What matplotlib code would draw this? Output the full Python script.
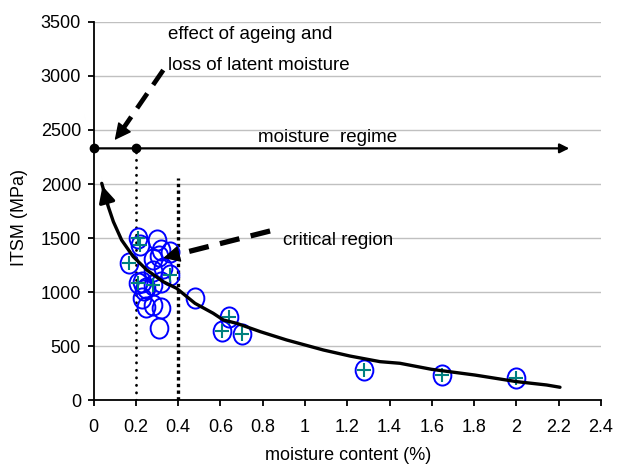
import matplotlib
matplotlib.use('Agg')
import matplotlib.pyplot as plt
from matplotlib.path import Path

plt.rcParams['font.family'] = ['Liberation Sans', 'DejaVu Sans']
plt.rcParams['font.size'] = 13

# measured ITSM, plain circles
circle_x = [0.30, 0.32, 0.36, 0.28, 0.31, 0.33, 0.28, 0.23, 0.32, 0.25,
            0.24, 0.23, 0.25, 0.28, 0.32, 0.31, 0.48]
circle_y = [1480, 1390, 1370, 1310, 1330, 1220, 1190, 1095, 1095, 1035,
            1020, 940, 865, 880, 850, 670, 940]

# measured ITSM, circles with cross
cross_x = [0.21, 0.22, 0.17, 0.36, 0.21, 0.28, 0.64, 0.61, 0.70, 1.28, 1.65, 2.00]
cross_y = [1500, 1435, 1265, 1160, 1080, 1065, 770, 635, 615, 280, 230, 200]

# hand-drawn trend curve (starts at the arrow tip)
curve_x = [0.039, 0.070, 0.094, 0.133, 0.188, 0.252, 0.330, 0.393, 0.480, 0.566,
           0.614, 0.677, 0.790, 0.913, 1.087, 1.213, 1.355, 1.449, 1.599, 1.804,
           2.001, 2.143, 2.206]
curve_y = [2006, 1790, 1651, 1481, 1327, 1204, 1095, 1034, 895, 803,
           741, 710, 632, 556, 463, 407, 355, 340, 284, 231,
           170, 139, 118]

regime_y = 2330
regime_end = 2.25
xticks = [0, 0.2, 0.4, 0.6, 0.8, 1.0, 1.2, 1.4, 1.6, 1.8, 2.0, 2.2, 2.4]
xtick_labels = ['0', '0.2', '0.4', '0.6', '0.8', '1', '1.2', '1.4', '1.6',
                '1.8', '2', '2.2', '2.4']
yticks = [0, 500, 1000, 1500, 2000, 2500, 3000, 3500]

fig = plt.figure(figsize=(6.18, 4.69), dpi=100)
ax = fig.add_axes([93.5 / 618, 69 / 469, 507.5 / 618, 378 / 469])

circ = Path.unit_circle()
ellipse = Path(circ.vertices * [0.88, 1.0], circ.codes)

ax.plot(circle_x, circle_y, ls='none', marker=ellipse, ms=14.5, mfc='none',
        mec='#0000ff', mew=1.4, zorder=3)
ax.plot(cross_x, cross_y, ls='none', marker=ellipse, ms=14.5, mfc='none',
        mec='#0000ff', mew=1.4, zorder=3)
ax.plot(cross_x, cross_y, ls='none', marker='+', ms=9.5, mec='#008080',
        mew=1.5, zorder=4)

# trend curve with arrow at the top
ax.plot(curve_x, curve_y, color='black', lw=2.4, zorder=5, solid_capstyle='round')
ax.annotate('', xy=(curve_x[0], curve_y[0]), xytext=(curve_x[1], curve_y[1]),
            arrowprops=dict(arrowstyle='-|>', color='black', lw=2.4,
                            mutation_scale=24), zorder=5)

# moisture regime line
ax.annotate('', xy=(regime_end, regime_y), xytext=(0, regime_y),
            arrowprops=dict(arrowstyle='-|>', color='black', lw=1.6,
                            mutation_scale=14, shrinkA=0, shrinkB=0))
ax.plot([0, 0.2], [regime_y, regime_y], ls='none', marker='o', ms=6,
        color='black', clip_on=False, zorder=6)
ax.text(0.78, 2435, 'moisture  regime', va='center', ha='left', fontsize=13.5)

# moisture bounds
ax.plot([0.2, 0.2], [0, regime_y], color='black', lw=2.0,
        dashes=(0.1, 2.6), dash_capstyle='round')
ax.plot([0.4, 0.4], [0, 2055], color='black', lw=2.4, dashes=(1, 1))

# ageing arrow
ax.plot([0.33, 0.125], [3055, 2470], color='black', lw=3.4, dashes=(3.8, 2.2))
ax.annotate('', xy=(0.10, 2407), xytext=(0.125, 2470),
            arrowprops=dict(arrowstyle='-|>', color='black', lw=1,
                            mutation_scale=26, shrinkA=0, shrinkB=0))
ax.text(0.35, 3380, 'effect of ageing and', va='center', ha='left', fontsize=13.5)
ax.text(0.35, 3100, 'loss of latent moisture', va='center', ha='left', fontsize=13.5)

# critical region arrow
ax.plot([0.835, 0.39], [1565, 1345], color='black', lw=3.8, dashes=(3.8, 2.2))
ax.annotate('', xy=(0.33, 1315), xytext=(0.39, 1345),
            arrowprops=dict(arrowstyle='-|>', color='black', lw=1,
                            mutation_scale=26, shrinkA=0, shrinkB=0))
ax.text(0.895, 1481, 'critical region', va='center', ha='left', fontsize=13.5)

ax.set_xlim(0, 2.4)
ax.set_ylim(0, 3500)
ax.set_xticks(xticks)
ax.set_xticklabels(xtick_labels)
ax.set_yticks(yticks)
ax.yaxis.grid(True, color='#c0c0c0', lw=1.0)
ax.set_axisbelow(True)
for side in ['top', 'right']:
    ax.spines[side].set_visible(False)
for side in ['left', 'bottom']:
    ax.spines[side].set_linewidth(1.3)
ax.tick_params(axis='x', direction='out', length=4, width=1.3, pad=10)
ax.tick_params(axis='y', direction='out', length=4, width=1.3, pad=5)

fig.text(348 / 618, 1 - 455 / 469, 'moisture content (%)', ha='center', va='center')
fig.text(20 / 618, 1 - 218 / 469, 'ITSM (MPa)', ha='center', va='center',
         rotation=90)

fig.savefig('out.png', dpi=100)
